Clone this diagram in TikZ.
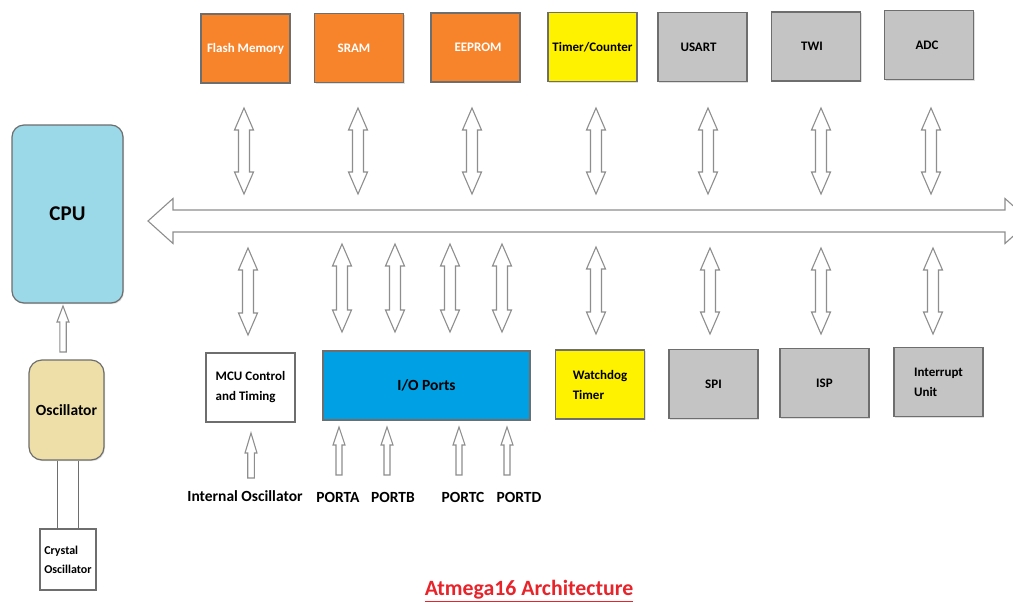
\documentclass[tikz,border=0pt]{standalone}
\usepackage{fontspec}
\setmainfont{Carlito}
\usetikzlibrary{calc,shadows}
\definecolor{orangebox}{HTML}{F7832A}
\definecolor{yellowbox}{HTML}{FFF200}
\definecolor{graybox}{HTML}{C4C4C4}
\definecolor{cpublue}{HTML}{9BD8E8}
\definecolor{oscbeige}{HTML}{EEDFA8}
\definecolor{ioblue}{HTML}{00A0E4}
\definecolor{boxborder}{HTML}{6E6E6E}
\definecolor{arrowgray}{HTML}{8E8E8E}
\definecolor{titlered}{HTML}{E8232A}
\newcommand\dblarrow[5]{%
  \coordinate (dP) at ($(#1)!#3!(#2)$);
  \coordinate (dQ) at ($(#2)!#3!(#1)$);
  \draw[blockarrow] (#1) -- ($(dP)!#4!90:(#1)$) -- ($(dP)!#5!90:(#1)$)
    -- ($(dQ)!#5!-90:(#2)$) -- ($(dQ)!#4!-90:(#2)$) -- (#2)
    -- ($(dQ)!#4!90:(#2)$) -- ($(dQ)!#5!90:(#2)$)
    -- ($(dP)!#5!-90:(#1)$) -- ($(dP)!#4!-90:(#1)$) -- cycle;}
\newcommand\sglarrow[5]{%
  \coordinate (sP) at ($(#2)!#3!(#1)$);
  \draw[blockarrow] ($(#1)!#5!90:(#2)$) -- ($(sP)!#5!90:(#2)$) -- ($(sP)!#4!90:(#2)$)
    -- (#2) -- ($(sP)!#4!-90:(#2)$) -- ($(sP)!#5!-90:(#2)$) -- ($(#1)!#5!-90:(#2)$) -- cycle;}
\tikzset{
  box/.style={draw=boxborder, line width=1.2pt, minimum width=89pt, minimum height=69pt,
    inner sep=0pt, font=\bfseries\fontsize{13}{20}\selectfont,
    drop shadow={shadow xshift=1pt, shadow yshift=-1.2pt, opacity=0.25}},
  blockarrow/.style={draw=arrowgray, line width=1.1pt, fill=white, line join=miter},
  lbl/.style={font=\bfseries\fontsize{15.5}{18}\selectfont, inner sep=0pt},
  wire/.style={draw=boxborder, line width=1pt}
}
\begin{document}
\begin{tikzpicture}[x=1pt,y=-1pt]
\useasboundingbox (0,0) rectangle (1013,603);
\clip (0,0) rectangle (1013,603);
\fill[white] (0,0) rectangle (1013,603);
% top row
\node[box, fill=orangebox, text=white] (flash) at (245.5,48.5) {Flash Memory};
\node[box, fill=orangebox, text=white] (sram) at (359,48) {\hspace*{-10pt}SRAM};
\node[box, fill=orangebox, text=white] (eeprom) at (475.5,47.5) {\hspace*{5pt}EEPROM};
\node[box, fill=yellowbox] (timer) at (592.5,47) {Timer/Counter};
\node[box, fill=graybox] (usart) at (702.5,47) {\hspace*{-8pt}USART};
\node[box, fill=graybox] (twi) at (816,46.5) {\hspace*{-8pt}TWI};
\node[box, fill=graybox] (adc) at (929,45) {\hspace*{-4pt}ADC};
% left column
\node[box, fill=cpublue, rounded corners=12pt, minimum width=111pt, minimum height=178pt,
  font=\bfseries\fontsize{21}{24}\selectfont] (cpu) at (67.5,214) {CPU};
\node[box, fill=oscbeige, rounded corners=13pt, minimum width=75pt, minimum height=100pt,
  font=\bfseries\fontsize{15.5}{18}\selectfont] (osc) at (66.5,410) {Oscillator};
\node[box, fill=white, minimum width=56pt, minimum height=61pt, align=left,
  font=\bfseries\fontsize{12}{19}\selectfont] (crystal) at (68,559.5) {Crystal\\Oscillator};
% bottom row
\node[box, fill=white, align=left] (mcu) at (250.5,387.5) {MCU Control\\and Timing};
\node[box, fill=ioblue, minimum width=207pt, font=\bfseries\fontsize{15.5}{18}\selectfont] (io) at (426.5,385.5) {I/O Ports};
\node[box, fill=yellowbox, align=left] (wdt) at (600,384.5) {Watchdog\\Timer};
\node[box, fill=graybox] (spi) at (713.5,384) {SPI};
\node[box, fill=graybox] (isp) at (824.5,383) {ISP};
\node[box, fill=graybox, align=left] (intr) at (938.5,382) {Interrupt\\Unit};
% labels
\node[lbl] (intosc) at (245,496) {Internal Oscillator};
\node[lbl] (pa) at (338,497) {PORTA};
\node[lbl] (pb) at (393,497) {PORTB};
\node[lbl] (pc) at (463,497) {PORTC};
\node[lbl] (pd) at (519,497) {PORTD};
\node[font=\bfseries\fontsize{21.8}{26}\selectfont, text=titlered, inner sep=0pt] (title) at (529,591) {\underline{Atmega16 Architecture}};
% bus
\coordinate (busL) at (148,221);
\coordinate (busR) at (1030,221);
\dblarrow{busL}{busR}{25pt}{22.5pt}{11pt}
% top vertical arrows
\foreach \n/\x in {1/244,2/358,3/472,4/596,5/708,6/821,7/931}{
  \coordinate (ta\n) at (\x,108);
  \coordinate (tb\n) at (\x,194);
  \dblarrow{ta\n}{tb\n}{22pt}{9.5pt}{5.5pt}
}
% bottom vertical arrows
\foreach \n/\x/\ya/\yb in {1/248/248/335,2/342/244/332,3/395/244/332,4/450/244/332,5/502/244/332,6/596/247/334,7/710/248/334,8/821/248/334,9/933/248/334}{
  \coordinate (ba\n) at (\x,\ya);
  \coordinate (bb\n) at (\x,\yb);
  \dblarrow{ba\n}{bb\n}{22pt}{9.5pt}{5.5pt}
}
% single arrows
\coordinate (oscT) at (63,352);
\coordinate (cpuB) at (63,306);
\sglarrow{oscT}{cpuB}{16pt}{6pt}{3.2pt}
\coordinate (ioA) at (251,478);
\coordinate (ioB) at (251,433);
\sglarrow{ioA}{ioB}{20pt}{6pt}{3.3pt}
\foreach \n/\x in {1/339,2/387,3/459,4/507}{
  \coordinate (pt\n) at (\x,475);
  \coordinate (ph\n) at (\x,427);
  \sglarrow{pt\n}{ph\n}{18pt}{6pt}{3pt}
}
% oscillator to crystal wires
\draw[wire] ($(osc.south)+(-9.5,0)$) coordinate (w1) -- (w1 |- crystal.north);
\draw[wire] ($(osc.south)+(11.5,0)$) coordinate (w2) -- (w2 |- crystal.north);
\end{tikzpicture}
\end{document}
